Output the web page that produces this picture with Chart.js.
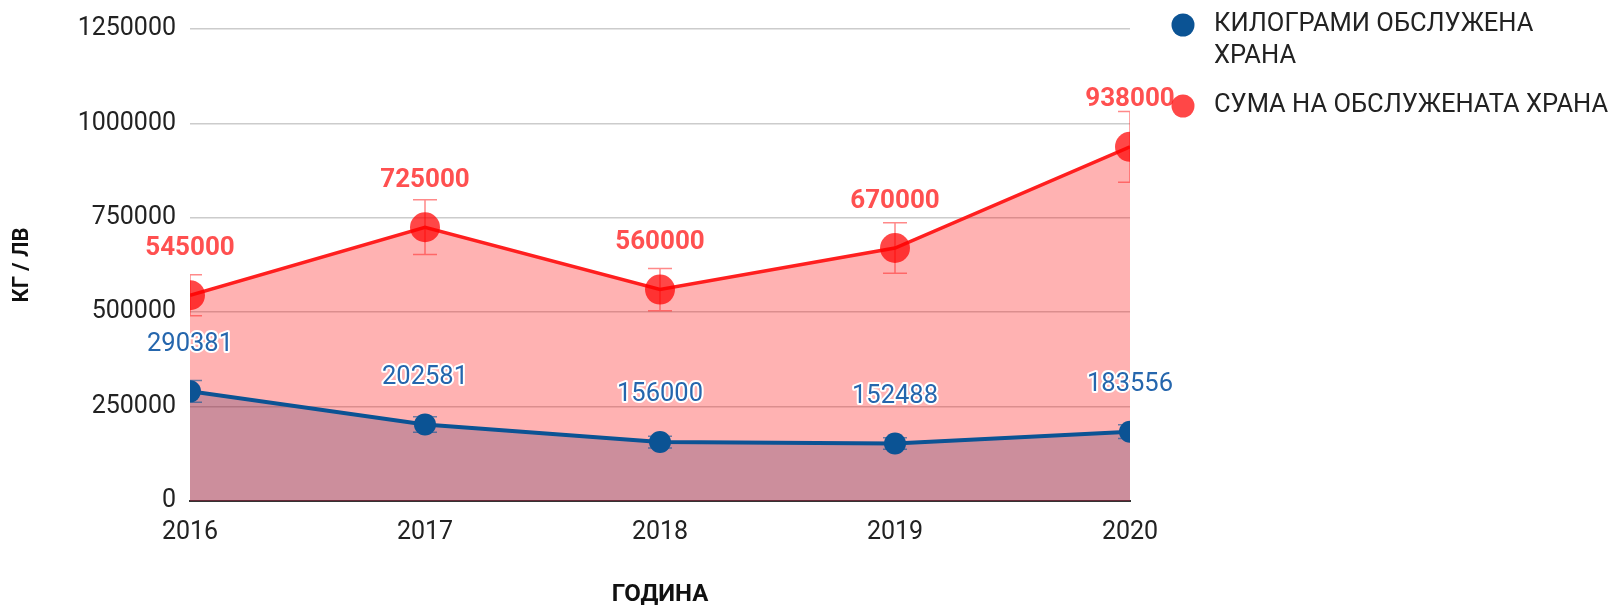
<!DOCTYPE html>
<html>
<head>
<meta charset="utf-8">
<title>Обслужена храна</title>
<script src="https://cdn.jsdelivr.net/npm/chart.js@4/dist/chart.umd.min.js"></script>
<style>
  html, body { margin: 0; padding: 0; background: #fff; }
  #wrap { width: 1610px; height: 607px; position: relative; }
</style>
</head>
<body>
<div id="wrap"><canvas id="foodChart"></canvas></div>
<script>
// data
const years = ['2016', '2017', '2018', '2019', '2020'];
const kgServed = [290381, 202581, 156000, 152488, 183556];
const amountServed = [545000, 725000, 560000, 670000, 938000];
const seriesNames = [['КИЛОГРАМИ ОБСЛУЖЕНА', 'ХРАНА'], 'СУМА НА ОБСЛУЖЕНАТА ХРАНА'];
const errorPercent = 10;
const yMax = 1250000;
const yStep = 250000;

const BLUE = '#0b5394';
const RED = '#ff1f1f';
const FONT = 'Roboto, "Noto Sans", sans-serif';

Chart.defaults.font.family = FONT;
Chart.defaults.color = '#222';

// clip points and error bars to the plot area, like the original
const plotClip = {
    id: 'plotClip',
    beforeDatasetsDraw(chart) {
        const { ctx, chartArea: a } = chart;
        ctx.save();
        ctx.beginPath();
        ctx.rect(a.left, a.top, a.right - a.left, a.bottom - a.top);
        ctx.clip();
    },
    afterDatasetsDraw(chart) {
        chart.ctx.restore();
    }
};

// error bars (+/- percent), drawn under each series' line and points
const errorBars = {
    id: 'errorBars',
    beforeDatasetDraw(chart, args) {
        const { ctx, scales } = chart;
        const ds = chart.data.datasets[args.index];
        const meta = args.meta;
        ctx.save();
        ctx.strokeStyle = ds.errorColor;
        ctx.lineWidth = 1.5;
        meta.data.forEach((pt, j) => {
            const v = ds.data[j];
            const hi = scales.y.getPixelForValue(v * (1 + errorPercent / 100));
            const lo = scales.y.getPixelForValue(v * (1 - errorPercent / 100));
            ctx.beginPath();
            ctx.moveTo(pt.x, hi); ctx.lineTo(pt.x, lo);
            ctx.moveTo(pt.x - 12, hi); ctx.lineTo(pt.x + 12, hi);
            ctx.moveTo(pt.x - 12, lo); ctx.lineTo(pt.x + 12, lo);
            ctx.stroke();
        });
        ctx.restore();
    }
};

// value labels above each point
const valueLabels = {
    id: 'valueLabels',
    afterDatasetsDraw(chart) {
        const { ctx } = chart;
        ctx.save();
        ctx.textAlign = 'center';
        ctx.textBaseline = 'middle';
        ctx.lineJoin = 'round';
        chart.data.datasets.forEach((ds, i) => {
            const meta = chart.getDatasetMeta(i);
            ctx.font = ds.labelFont;
            meta.data.forEach((pt, j) => {
                const txt = String(ds.data[j]);
                const y = pt.y - 47;
                ctx.strokeStyle = '#fff';
                ctx.lineWidth = 4;
                ctx.strokeText(txt, pt.x, y);
                ctx.fillStyle = ds.labelColor;
                ctx.fillText(txt, pt.x, y);
            });
        });
        ctx.restore();
    }
};

// legend on the right, with the wrapped first entry
const sideLegend = {
    id: 'sideLegend',
    afterDraw(chart) {
        const { ctx } = chart;
        const x = 1183;
        const rows = [25, 106];
        ctx.save();
        ctx.font = '25.5px ' + FONT;
        ctx.textBaseline = 'middle';
        ctx.textAlign = 'left';
        chart.data.datasets.forEach((ds, i) => {
            ctx.fillStyle = ds.pointBackgroundColor;
            ctx.beginPath();
            ctx.arc(x, rows[i], 11.5, 0, Math.PI * 2);
            ctx.fill();
            ctx.fillStyle = '#222';
            const lines = Array.isArray(seriesNames[i]) ? seriesNames[i] : [seriesNames[i]];
            lines.forEach((line, k) => ctx.fillText(line, x + 31, rows[i] + k * 32));
        });
        ctx.restore();
    }
};

const ctx = document.getElementById('foodChart').getContext('2d');

new Chart(ctx, {
    type: 'line',
    data: {
        labels: years,
        datasets: [{
            label: seriesNames[0].join(' '),
            data: kgServed,
            order: 1,
            borderColor: BLUE,
            backgroundColor: 'rgba(11,83,148,0.3)',
            pointBackgroundColor: BLUE,
            pointBorderWidth: 0,
            pointRadius: 11,
            borderWidth: 4,
            fill: 'origin',
            tension: 0,
            errorColor: 'rgba(11,83,148,0.6)',
            labelColor: '#2566ad',
            labelFont: '25.5px ' + FONT
        }, {
            label: seriesNames[1],
            data: amountServed,
            order: 0,
            borderColor: RED,
            backgroundColor: 'rgba(255,0,0,0.3)',
            pointBackgroundColor: 'rgba(255,0,0,0.72)',
            pointBorderWidth: 0,
            pointRadius: 15,
            borderWidth: 3.5,
            fill: 'origin',
            tension: 0,
            errorColor: 'rgba(255,40,40,0.55)',
            labelColor: '#ff5050',
            labelFont: 'bold 26px ' + FONT
        }]
    },
    options: {
        responsive: true,
        maintainAspectRatio: false,
        animation: false,
        layout: {
            padding: { top: 25, right: 480, bottom: 0, left: 0 }
        },
        plugins: {
            legend: { display: false },
            tooltip: { enabled: false },
            filler: { drawTime: 'beforeDatasetsDraw' }
        },
        scales: {
            x: {
                offset: false,
                grid: { display: false, drawTicks: false },
                border: { display: true, color: '#333', width: 2 },
                ticks: {
                    padding: 17,
                    color: '#222',
                    font: { size: 25 }
                },
                title: {
                    display: true,
                    text: 'ГОДИНА',
                    color: '#111',
                    font: { size: 24, weight: 'bold', lineHeight: 1 },
                    padding: { top: 0, bottom: 0 }
                },
                afterFit(scale) { scale.height = 106; }
            },
            y: {
                min: 0,
                max: yMax,
                grid: { color: '#cccccc', lineWidth: 1.5, drawTicks: false },
                border: { display: false },
                ticks: {
                    stepSize: yStep,
                    padding: 14,
                    color: '#222',
                    font: { size: 25 },
                    callback: value => String(value)
                },
                title: {
                    display: true,
                    text: 'КГ / ЛВ',
                    color: '#111',
                    font: { size: 22, weight: 'bold', lineHeight: 1 },
                    padding: { top: 11, bottom: 0 }
                },
                afterFit(scale) { scale.width = 190; }
            }
        }
    },
    plugins: [plotClip, errorBars, valueLabels, sideLegend]
});
</script>
</body>
</html>
